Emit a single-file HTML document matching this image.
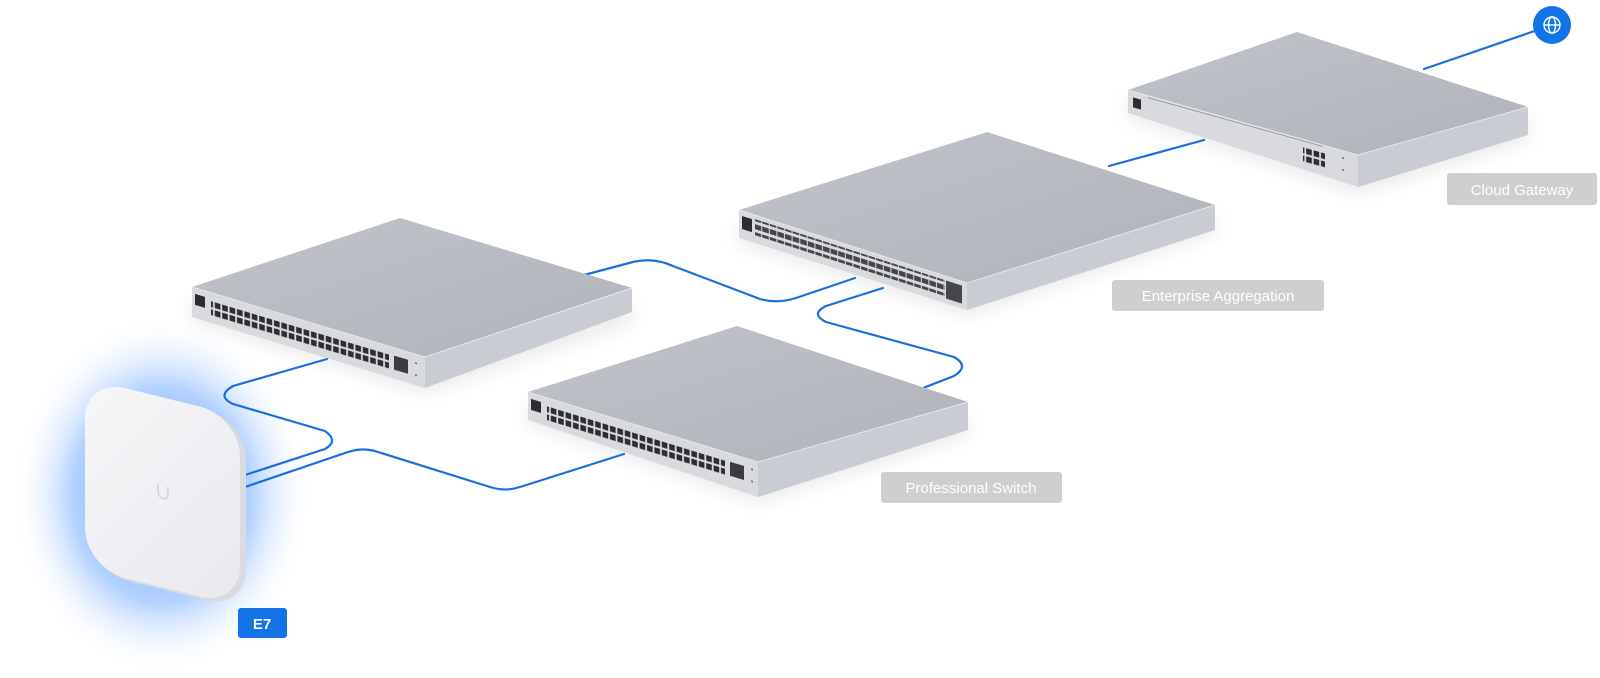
<!DOCTYPE html>
<html><head><meta charset="utf-8"><style>
html,body{margin:0;padding:0;background:#fff;}
svg{display:block;}
.lbl{font-family:"Liberation Sans",sans-serif;font-size:15px;fill:#fff;}
</style></head><body>
<svg width="1600" height="678" viewBox="0 0 1600 678" xmlns="http://www.w3.org/2000/svg">
<defs>
<radialGradient id="glow" cx="0.5" cy="0.5" r="0.5">
<stop offset="0" stop-color="#4f95ff" stop-opacity="1"/>
<stop offset="0.6" stop-color="#8dbaff" stop-opacity="0.65"/>
<stop offset="1" stop-color="#ffffff" stop-opacity="0"/>
</radialGradient>
<linearGradient id="top" x1="0" y1="0" x2="1" y2="1">
<stop offset="0" stop-color="#c0c3c9"/><stop offset="1" stop-color="#b0b3ba"/>
</linearGradient>
<linearGradient id="ap" x1="0" y1="0" x2="1" y2="1">
<stop offset="0" stop-color="#f7f7f9"/><stop offset="1" stop-color="#e8e9ed"/>
</linearGradient>
<filter id="blur" x="-50%" y="-50%" width="200%" height="200%"><feGaussianBlur stdDeviation="10"/></filter>
<pattern id="rj" width="7.4" height="8" patternUnits="userSpaceOnUse">
<rect x="0.6" y="0.5" width="5.6" height="5.8" fill="#2c2e33"/></pattern>
<pattern id="sfp" width="7.6" height="8" patternUnits="userSpaceOnUse">
<rect x="0.4" y="1" width="6.6" height="5" fill="#44464c"/></pattern>
</defs>

<ellipse cx="162" cy="495" rx="150" ry="180" fill="url(#glow)"/>

<g filter="url(#blur)" fill="#000" opacity="0.12">
<polygon points="1128,115 1358,190 1528,137 1528,120 1358,175 1128,100"/>
<polygon points="739,240 967,312 1215,230 1215,215 967,297 739,225"/>
<polygon points="192,318 425,390 632,320 632,305 425,375 192,303"/>
<polygon points="528,421 758,499 968,432 968,417 758,484 528,406"/>
</g>

<g fill="none" stroke="#1a6fdc" stroke-width="2.2" stroke-linecap="round" stroke-linejoin="round">
<path d="M1552,25 L1424,69"/>
<path d="M1204,140 L1109,166"/>
<path d="M584,275 L633,262 Q653,257 673,266 L760,299 Q777,304 796,298 L855,278"/>
<path d="M883,288 L826,306 Q810,314 826,322 L954,357 Q970,366 954,376 L923,388"/>
<path d="M327,359 L233,386 Q216,396 233,404 L325,431 Q339,441 325,449 L245,475"/>
<path d="M624,454 L520,487 Q505,492 490,487 L378,452 Q363,447 348,452 L245,487"/>
</g>

<!-- Cloud Gateway -->
<polygon points="1128,90 1297,32 1528,107 1358,155" fill="url(#top)"/>
<polygon points="1128,90 1358,155 1358,187 1128,113" fill="#d8dade"/>
<polygon points="1358,155 1528,107 1528,135 1358,187" fill="#c9ccd2"/>
<polyline points="1128,90 1358,155 1528,107" fill="none" stroke="#e4e6ea" stroke-width="1"/>
<g transform="translate(1128,90) skewY(15.6)">
<rect x="5" y="6" width="8" height="10" fill="#2b2d32"/>
<line x1="20" y1="2" x2="195" y2="2" stroke="#8d9098" stroke-width="0.8"/>
<rect x="175" y="8" width="22" height="16" fill="url(#rj)"/>
<circle cx="215" cy="8" r="1" fill="#666"/><circle cx="215" cy="20" r="1" fill="#666"/>
</g>
<circle cx="1552" cy="25" r="19" fill="#1473e6"/>
<g fill="none" stroke="#fff" stroke-width="1.4"><circle cx="1552" cy="25" r="8"/><ellipse cx="1552" cy="25" rx="3.5" ry="8"/><line x1="1544" y1="25" x2="1560" y2="25"/></g>

<!-- Enterprise Aggregation -->
<polygon points="739,210 987,132 1215,205 967,283" fill="url(#top)"/>
<polygon points="739,210 967,283 967,310 739,238" fill="#d8dade"/>
<polygon points="967,283 1215,205 1215,230 967,310" fill="#c9ccd2"/>
<polyline points="739,210 967,283 1215,205" fill="none" stroke="#e4e6ea" stroke-width="1"/>
<g transform="translate(739,210) skewY(17.8)">
<rect x="3" y="5" width="10" height="13" fill="#2b2d32"/>
<rect x="16" y="4" width="190" height="16" fill="url(#sfp)"/>
<rect x="207" y="4" width="16" height="18" fill="#44464c"/>
</g>

<!-- Left switch -->
<polygon points="192,287 400,218 632,288 425,357" fill="url(#top)"/>
<polygon points="192,287 425,357 425,388 192,317" fill="#d8dade"/>
<polygon points="425,357 632,288 632,312 425,388" fill="#c9ccd2"/>
<polyline points="192,287 425,357 632,288" fill="none" stroke="#e4e6ea" stroke-width="1"/>
<g transform="translate(192,287) skewY(16.7)">
<rect x="3" y="6" width="10" height="11" fill="#2b2d32"/>
<rect x="19" y="7" width="178" height="16" fill="url(#rj)"/>
<rect x="202" y="8" width="14" height="14" fill="#3a3c42"/>
<circle cx="224" cy="9" r="1" fill="#666"/><circle cx="224" cy="21" r="1" fill="#666"/>
</g>

<!-- Professional switch -->
<polygon points="528,392 737,326 968,402 758,462" fill="url(#top)"/>
<polygon points="528,392 758,462 758,497 528,420" fill="#d8dade"/>
<polygon points="758,462 968,402 968,430 758,497" fill="#c9ccd2"/>
<polyline points="528,392 758,462 968,402" fill="none" stroke="#e4e6ea" stroke-width="1"/>
<g transform="translate(528,392) skewY(17)">
<rect x="3" y="6" width="10" height="11" fill="#2b2d32"/>
<rect x="19" y="7" width="178" height="16" fill="url(#rj)"/>
<rect x="202" y="8" width="14" height="14" fill="#3a3c42"/>
<circle cx="224" cy="9" r="1" fill="#666"/><circle cx="224" cy="21" r="1" fill="#666"/>
</g>

<!-- E7 -->
<g transform="translate(85,378) skewY(14)">
<rect x="4" y="2" width="157" height="190" rx="40" fill="#d9dbe0"/>
<rect x="0" y="0" width="155" height="190" rx="40" fill="url(#ap)"/>
<path d="M73,88 v8 a5,5 0 0 0 10,0 v-8" fill="none" stroke="#d0d2d8" stroke-width="1.5"/>
</g>

<rect x="1447" y="173" width="150" height="32" rx="3" fill="#cfcfd1"/>
<text class="lbl" x="1522" y="195" text-anchor="middle">Cloud Gateway</text>
<rect x="1112" y="280" width="212" height="31" rx="3" fill="#cfcfd1"/>
<text class="lbl" x="1218" y="301" text-anchor="middle">Enterprise Aggregation</text>
<rect x="881" y="472" width="181" height="31" rx="3" fill="#cfcfd1"/>
<text class="lbl" x="971" y="493" text-anchor="middle">Professional Switch</text>
<rect x="238" y="608" width="49" height="30" rx="3" fill="#1473e6"/>
<text class="lbl" x="262" y="629" text-anchor="middle" style="font-weight:bold">E7</text>
</svg>
</body></html>
